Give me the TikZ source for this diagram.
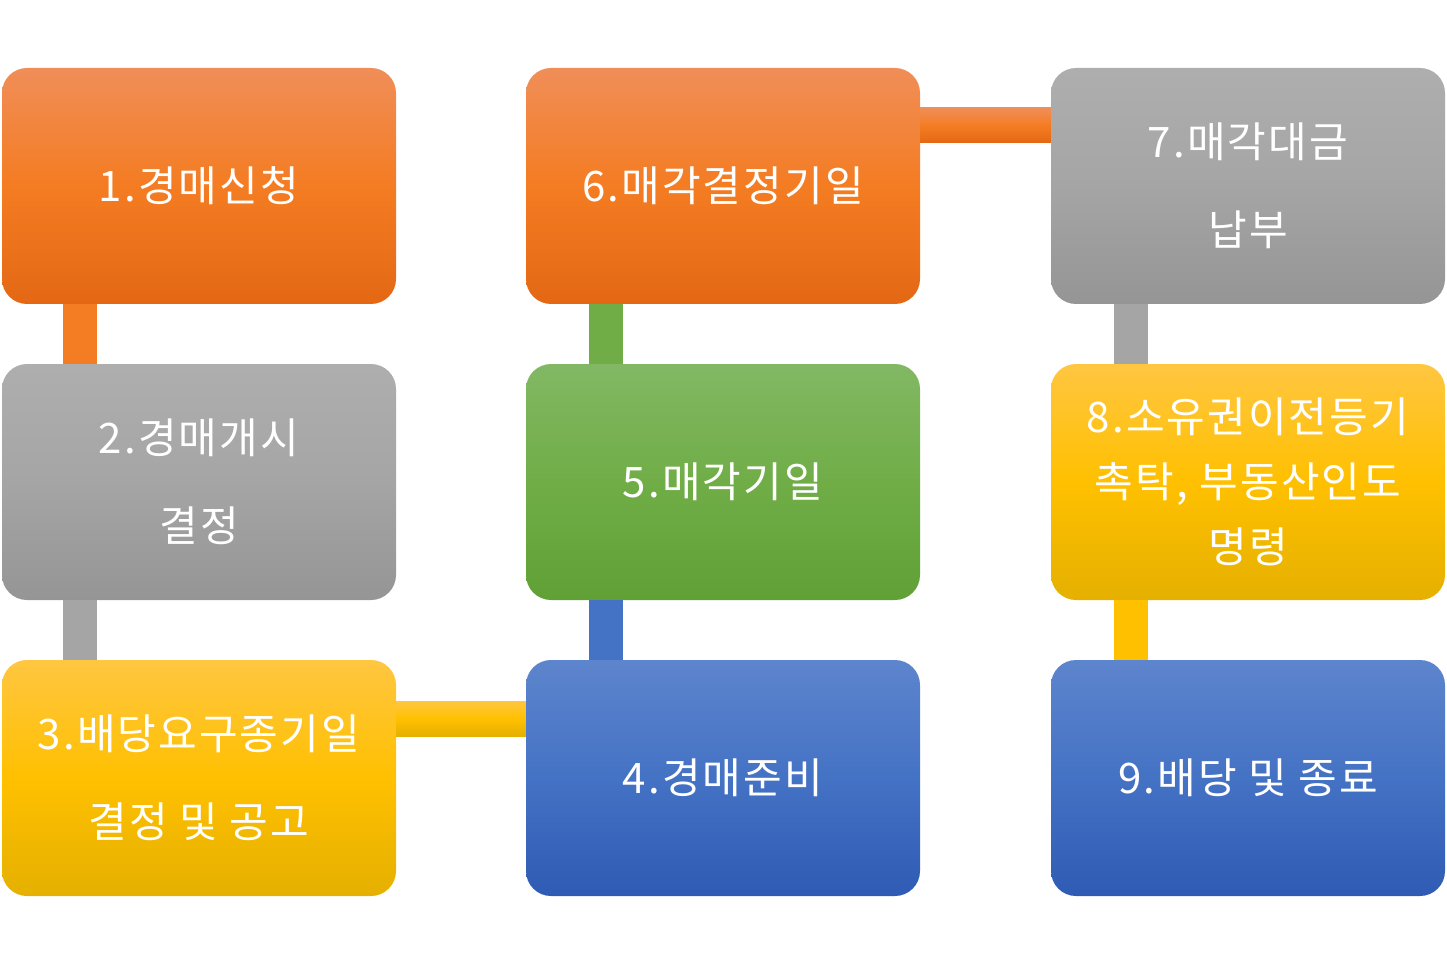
\documentclass[tikz,border=0pt]{standalone}
\usepackage{fontspec}
\newfontfamily\krfont[LetterSpace=5]{Noto Sans CJK KR}
\usetikzlibrary{calc}
\definecolor{orangeT}{HTML}{F08E58}
\definecolor{orangeM}{HTML}{F47C22}
\definecolor{orangeB}{HTML}{E46814}
\definecolor{grayT}{HTML}{AEAEAE}
\definecolor{grayM}{HTML}{A5A5A5}
\definecolor{grayB}{HTML}{959595}
\definecolor{goldT}{HTML}{FFC641}
\definecolor{goldM}{HTML}{FFC000}
\definecolor{goldB}{HTML}{E5B000}
\definecolor{greenT}{HTML}{82B864}
\definecolor{greenM}{HTML}{70AD47}
\definecolor{greenB}{HTML}{60A035}
\definecolor{blueT}{HTML}{5D85CD}
\definecolor{blueM}{HTML}{4472C4}
\definecolor{blueB}{HTML}{2F5BB4}
\tikzset{stage/.style={rounded corners=25pt,minimum width=394pt,minimum height=236pt,
                       inner sep=0pt,text=white,align=center,
                       font=\krfont\fontsize{42}{88}\selectfont},
         tight/.style={font=\krfont\fontsize{42}{65}\selectfont},
         orangebox/.style={stage,top color=orangeT,bottom color=orangeB,middle color=orangeM},
         graybox/.style={stage,top color=grayT,bottom color=grayB,middle color=grayM},
         goldbox/.style={stage,top color=goldT,bottom color=goldB,middle color=goldM},
         greenbox/.style={stage,top color=greenT,bottom color=greenB,middle color=greenM},
         bluebox/.style={stage,top color=blueT,bottom color=blueB,middle color=blueM},
         hbar/.style={top color=#1T,bottom color=#1B,middle color=#1M},
         vbar/.style={fill=#1M}}

\begin{document}
\begin{tikzpicture}[x=1pt,y=-1pt]
\useasboundingbox (0,0) rectangle (1447,965);
\node[orangebox] (s1) at (199,186) {1.경매신청};
\node[graybox]   (s2) at (199,482) {2.경매개시\\결정};
\node[goldbox]   (s3) at (199,778) {3.배당요구종기일\\결정 및 공고};
\node[bluebox]   (s4) at (723,778) {4.경매준비};
\node[greenbox]  (s5) at (723,482) {5.매각기일};
\node[orangebox] (s6) at (723,186) {6.매각결정기일};
\node[graybox]   (s7) at (1248,186) {7.매각대금\\납부};
\node[goldbox,tight] (s8) at (1248,482) {8.소유권이전등기\\촉탁, 부동산인도\\명령};
\node[bluebox]   (s9) at (1248,778) {9.배당 및 종료};
\fill[vbar=orange] ($(s1.south west)+(61,0)$) rectangle ($(s2.north west)+(95,0)$);
\fill[vbar=gray] ($(s2.south west)+(61,0)$) rectangle ($(s3.north west)+(95,0)$);
\shade[hbar=gold] ($(s3.east)+(0,-77)$) rectangle ($(s4.west)+(0,-42)$);
\fill[vbar=blue] ($(s4.north west)+(63,0)$) rectangle ($(s5.south west)+(97,0)$);
\fill[vbar=green] ($(s5.north west)+(63,0)$) rectangle ($(s6.south west)+(97,0)$);
\shade[hbar=orange] ($(s6.east)+(0,-78)$) rectangle ($(s7.west)+(0,-43)$);
\fill[vbar=gray] ($(s7.south west)+(63,0)$) rectangle ($(s8.north west)+(97,0)$);
\fill[vbar=gold] ($(s8.south west)+(63,0)$) rectangle ($(s9.north west)+(97,0)$);
\end{tikzpicture}
\end{document}
